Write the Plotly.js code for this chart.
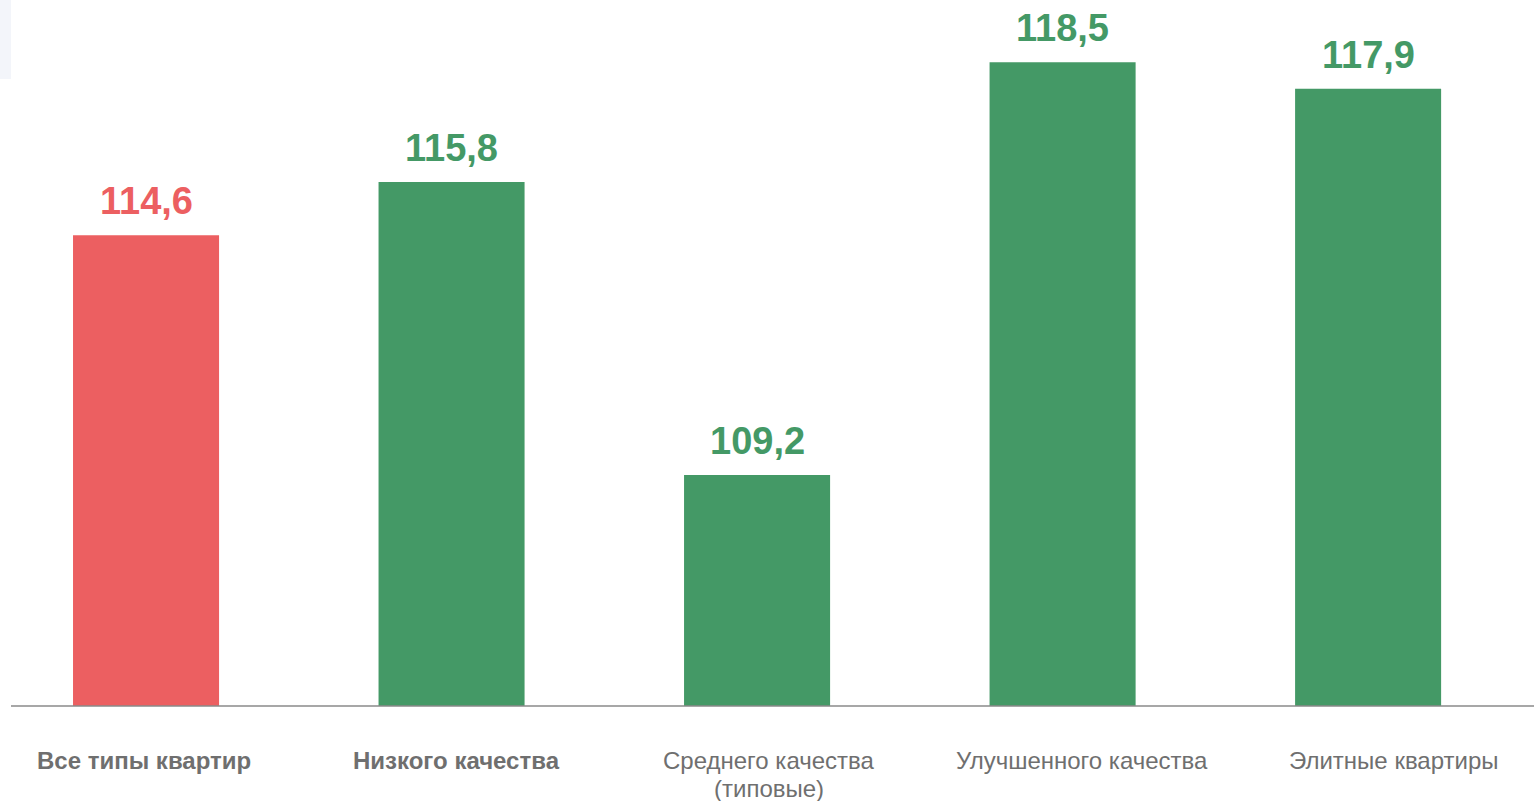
<!DOCTYPE html>
<html>
<head>
<meta charset="utf-8">
<script src="https://cdn.plot.ly/plotly-3.0.1.min.js"></script>
<style>html,body{margin:0;padding:0;background:#fff;}#chart{width:1534px;height:801px;}</style>
</head>
<body>
<div id="chart"></div>
<script>
const categories = ["Все типы квартир", "Низкого качества", "Среднего качества (типовые)", "Улучшенного качества", "Элитные квартиры"];
const tickLabels = ["<b>Все типы квартир</b>", "<b>Низкого качества</b>", "Среднего качества<br>(типовые)", "Улучшенного качества", "Элитные квартиры"];
const values = [114.6, 115.8, 109.2, 118.5, 117.9];
const barColors = ["#EC5F61", "#449966", "#449966", "#449966", "#449966"];

const FONT = "Liberation Sans, Arial, sans-serif";
const W = 1534, H = 801, B = 95;
const plotH = H - B;
// category label row is laid out on its own slightly wider grid (as in the original)
const LABEL_X0 = 144, LABEL_STEP = 312.5, LINE_STEP = 28;

const trace = {
  type: "bar",
  x: categories,
  y: values,
  width: 0.478,
  marker: {color: barColors},
  hoverinfo: "x+y",
  showlegend: false
};

const valueAnnotations = values.map((v, i) => ({
  xref: "x", yref: "y",
  x: categories[i], y: v,
  text: "<b>" + v.toFixed(1).replace(".", ",") + "</b>",
  showarrow: false,
  xanchor: "center", yanchor: "bottom",
  yshift: 11,
  font: {family: FONT, size: 38, color: barColors[i]}
}));

const labelAnnotations = [];
tickLabels.forEach((t, i) => {
  t.split("<br>").forEach((line, j) => {
    labelAnnotations.push({
      xref: "paper", yref: "paper",
      x: (LABEL_X0 + LABEL_STEP * i) / W, y: 0,
      text: line,
      showarrow: false,
      xanchor: "center", yanchor: "top", align: "center",
      yshift: -39 - LINE_STEP * j,
      font: {family: FONT, size: 24, color: "#6f6f6f"}
    });
  });
});

const layout = {
  width: W, height: H,
  margin: {l: 0, r: 0, t: 0, b: B, pad: 0},
  paper_bgcolor: "#ffffff",
  plot_bgcolor: "#ffffff",
  font: {family: FONT},
  xaxis: {
    type: "category",
    range: [-0.478, 4.543],
    showticklabels: false,
    showgrid: false, zeroline: false, showline: false, ticks: "",
    fixedrange: true
  },
  yaxis: {
    range: [104, 119.9],
    showticklabels: false, showgrid: false, zeroline: false, showline: false, ticks: "",
    fixedrange: true
  },
  shapes: [
    {type: "rect", xref: "paper", yref: "paper", x0: 0, x1: 11 / W, y0: 1 - 79 / plotH, y1: 1,
     fillcolor: "#F3F5FA", line: {width: 0}, layer: "below"},
    {type: "line", xref: "paper", yref: "paper", x0: 11 / W, x1: 1, y0: 0, y1: 0,
     line: {color: "#8a8a8a", width: 1.3}}
  ],
  annotations: valueAnnotations.concat(labelAnnotations)
};

Plotly.newPlot("chart", [trace], layout, {displayModeBar: false, staticPlot: true});
</script>
</body>
</html>
